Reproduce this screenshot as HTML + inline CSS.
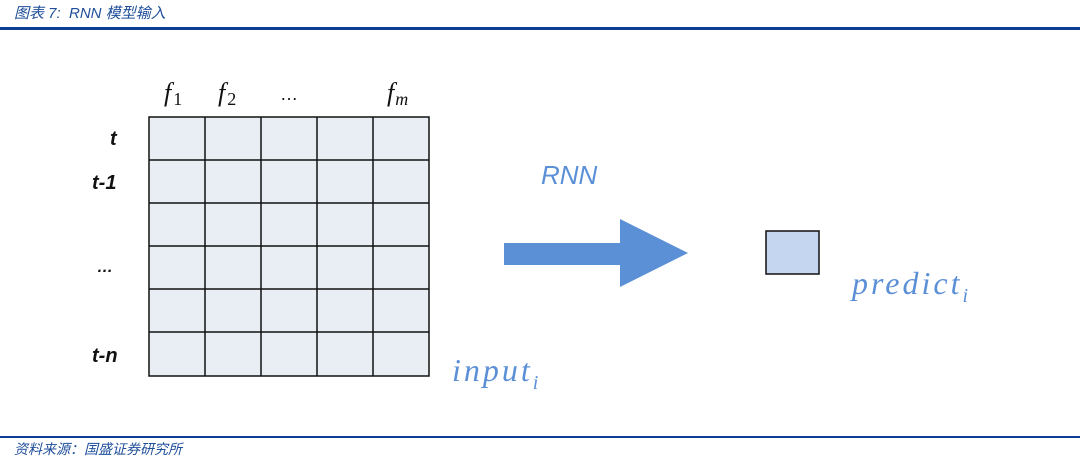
<!DOCTYPE html>
<html><head><meta charset="utf-8"><style>
body{margin:0;width:1080px;height:461px;background:#fff;position:relative;overflow:hidden;font-family:"Liberation Sans","Noto Sans CJK SC",sans-serif}
.t{position:absolute;white-space:nowrap}
</style></head><body>
<div class="t" style="left:14px;top:2px;font-size:15px;color:#1f4e9a;font-style:italic">图表 7:&nbsp; RNN 模型输入</div>
<div style="position:absolute;left:0;top:27px;width:1080px;height:3px;background:#0c3e96"></div>
<div style="position:absolute;left:0;top:436px;width:1080px;height:2px;background:#0c3e96"></div>
<div class="t" style="left:14px;top:439px;font-size:14px;color:#1f4e9a;font-style:italic">资料来源：国盛证券研究所</div>
<svg width="1080" height="461" style="position:absolute;left:0;top:0">
<g fill="#e9edf4" stroke="#111" stroke-width="1.5">
<rect x="149" y="117" width="280" height="259"/>
</g>
<g stroke="#111" stroke-width="1.5">
<line x1="205" y1="117" x2="205" y2="376"/><line x1="261" y1="117" x2="261" y2="376"/><line x1="317" y1="117" x2="317" y2="376"/><line x1="373" y1="117" x2="373" y2="376"/>
<line x1="149" y1="160" x2="429" y2="160"/><line x1="149" y1="203" x2="429" y2="203"/><line x1="149" y1="246" x2="429" y2="246"/><line x1="149" y1="289" x2="429" y2="289"/><line x1="149" y1="332" x2="429" y2="332"/>
</g>
<g font-family="Liberation Serif,serif" font-style="italic" font-size="26" fill="#111">
<text x="164" y="101">f<tspan font-size="18" font-style="normal" dy="4" dx="2">1</tspan></text>
<text x="218" y="101">f<tspan font-size="18" font-style="normal" dy="4" dx="2">2</tspan></text>
<text x="387" y="101">f<tspan font-size="18" dy="4" dx="1">m</tspan></text>
</g>
<text x="280" y="100" font-size="18" fill="#111">…</text>
<g font-family="Liberation Sans,sans-serif" font-style="italic" font-weight="bold" font-size="20" fill="#111">
<text x="110" y="145">t</text>
<text x="92" y="189">t-1</text>
<text x="97" y="272" font-size="16">…</text>
<text x="92" y="362">t-n</text>
</g>
<polygon points="504,243 620,243 620,219 688,253 620,287 620,265 504,265" fill="#5b8fd6"/>
<rect x="766" y="231" width="53" height="43" fill="#c5d7f0" stroke="#111" stroke-width="1.5"/>
<text x="541" y="184" font-family="Liberation Sans,sans-serif" font-style="italic" font-size="26" fill="#5b8fd6">RNN</text>
<g font-family="Liberation Serif,serif" font-style="italic" font-size="32" fill="#5b8fd6" letter-spacing="3">
<text x="852" y="294">predict<tspan font-size="20" dy="8">i</tspan></text>
<text x="452" y="381">input<tspan font-size="20" dy="8">i</tspan></text>
</g>
</svg>
</body></html>
